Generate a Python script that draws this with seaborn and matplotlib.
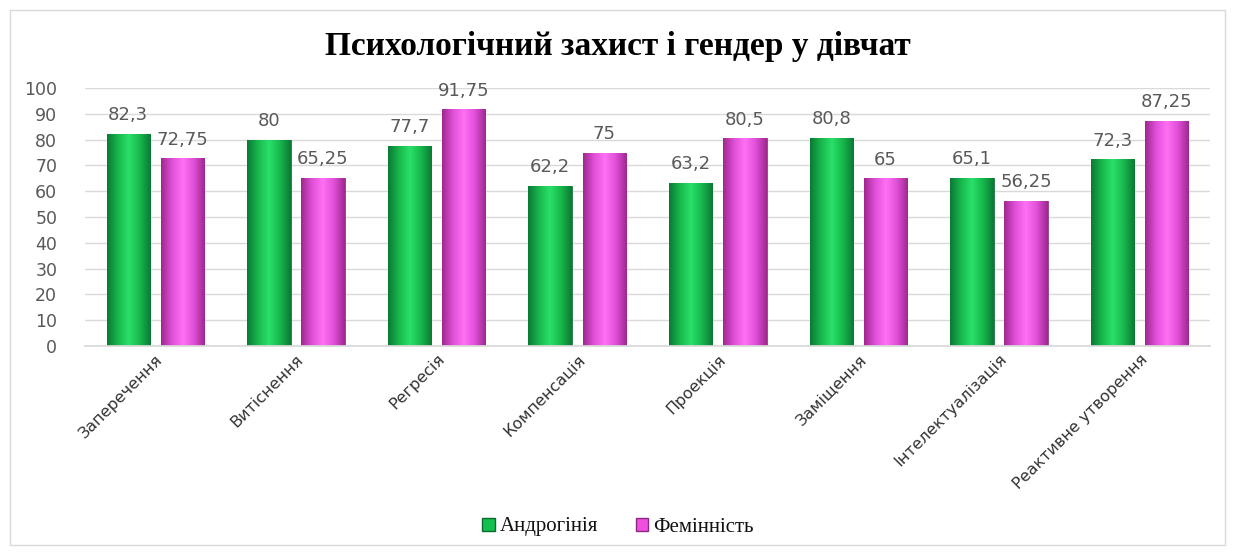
import numpy as np
import pandas as pd
import matplotlib
matplotlib.use("Agg")
import matplotlib.pyplot as plt
import seaborn as sns
from matplotlib.colors import LinearSegmentedColormap
from matplotlib.patches import Rectangle, Patch

categories = ["Заперечення", "Витіснення", "Регресія", "Компенсація", "Проекція",
              "Заміщення", "Інтелектуалізація", "Реактивне утворення"]
androgyny = [82.3, 80, 77.7, 62.2, 63.2, 80.8, 65.1, 72.3]
femininity = [72.75, 65.25, 91.75, 75, 80.5, 65, 56.25, 87.25]
series_names = ["Андрогінія", "Фемінність"]

df = pd.DataFrame({
    "cat": categories * 2,
    "val": androgyny + femininity,
    "series": [series_names[0]] * len(categories) + [series_names[1]] * len(categories),
})

sns.set_theme(style="white")
plt.rcParams['font.family'] = ['DejaVu Sans']

fig = plt.figure(figsize=(12.36, 5.54), dpi=100)
ax = fig.add_axes([85/1236, 1 - 346/554, (1210-85)/1236, (346-88)/554])

colors = {"Андрогінія": "#13c04f", "Фемінність": "#f050e0"}
sns.barplot(data=df, x="cat", y="val", hue="series", palette=colors, ax=ax,
            width=0.77, gap=0.2, legend=False, saturation=1)

ax.set_ylim(0, 100)
ax.set_yticks(range(0, 101, 10))
ax.yaxis.grid(True, color="#d9d9d9", linewidth=1)
ax.set_axisbelow(True)
for s in ["top", "right", "left"]:
    ax.spines[s].set_visible(False)
ax.spines["bottom"].set_color("#d9d9d9")
ax.set_xlabel("")
ax.set_ylabel("")
ax.tick_params(axis="y", labelsize=12.5, labelcolor="#595959", length=0, pad=20)
ax.tick_params(axis="x", labelsize=11.5, labelcolor="#333333", length=0, pad=4)
plt.setp(ax.get_xticklabels(), rotation=45, ha="right", rotation_mode="anchor")

# gradient fill for bars
grad_cmaps = {
    0: LinearSegmentedColormap.from_list("g", ["#0a7a35", "#18b84c", "#2ae06a", "#18b84c", "#0a7a35"]),
    1: LinearSegmentedColormap.from_list("m", ["#a02890", "#e050d8", "#ff70f4", "#e050d8", "#a02890"]),
}
edgecols = {0: "#0b6a30", 1: "#8a2a80"}
grad = np.linspace(0, 1, 64).reshape(1, -1)
n = len(categories)
for ci, cont in enumerate(ax.containers):
    vals = androgyny if ci == 0 else femininity
    for bar, v in zip(cont, vals):
        x0, w, h = bar.get_x(), bar.get_width(), bar.get_height()
        bar.set_facecolor("none")
        bar.set_edgecolor(edgecols[ci])
        bar.set_linewidth(0.6)
        im = ax.imshow(grad, cmap=grad_cmaps[ci], aspect="auto",
                       extent=[x0, x0 + w, 0, h], zorder=2)
        im.set_clip_path(bar)
        lab = f"{v:g}".replace(".", ",")
        ax.annotate(lab, (x0 + w / 2, h), xytext=(0, 7), textcoords="offset points",
                    ha="center", va="bottom", fontsize=13, color="#595959")
ax.set_xlim(-0.5, n - 0.5)

fig.text(0.5, 1 - 46/554, "Психологічний захист і гендер у дівчат", ha="center", va="center",
         fontsize=24, fontweight="bold", color="#000000", family=["Liberation Serif"])

handles = [Patch(facecolor=colors[s], edgecolor=edgecols[i]) for i, s in enumerate(series_names)]
fig.legend(handles, series_names, loc="center", bbox_to_anchor=(0.5, 1 - 527/554), ncol=2,
           frameon=False, prop={"family": "Liberation Serif", "size": 15},
           labelcolor="#111111",
           handlelength=0.6, handleheight=0.6, handletextpad=0.25, columnspacing=1.8)

fig.patches.append(Rectangle((10/1236, 1 - 545/554), 1215/1236, 535/554, transform=fig.transFigure,
                             fill=False, edgecolor="#d9d9d9", linewidth=1))

fig.savefig("out.png", dpi=100)
